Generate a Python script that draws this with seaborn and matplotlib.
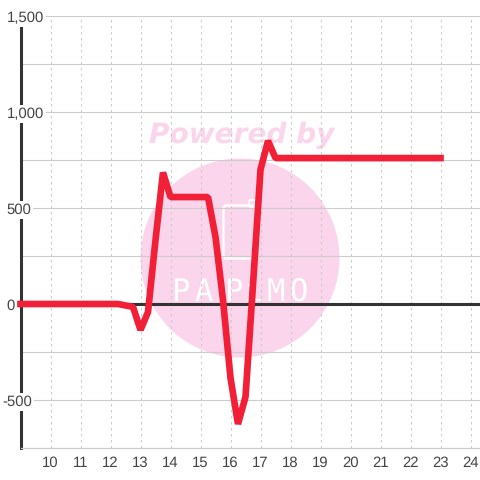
import matplotlib
matplotlib.use("Agg")
import matplotlib.pyplot as plt
from matplotlib.patches import Circle, FancyBboxPatch
import pandas as pd
import seaborn as sns

hours = [9, 12, 12.25, 12.75, 13, 13.25, 13.5, 13.75, 14, 15.25, 15.5, 15.75, 16, 16.25, 16.5, 16.75, 17, 17.25, 17.5, 23]
values = [0, 0, 0, -15, -135, -42, 333, 685, 557, 557, 349, 20, -385, -625, -484, 100, 700, 850, 760, 760]
x_ticks = list(range(10, 25))
y_labels = [-500, 0, 500, 1000, 1500]
y_grid = [-500, -250, 0, 250, 500, 750, 1000, 1250, 1500]
logo_letters = ["P", "A", "P", "i", "M", "O"]

sns.set_theme(style="white")
plt.rcParams["font.family"] = ["Liberation Sans", "DejaVu Sans"]
plt.rcParams["text.hinting"] = "none"

W = 480
PINK = "#FBD5EC"
fig = plt.figure(figsize=(4.8, 4.8), dpi=100, facecolor="white")

# watermark layer, in pixel coordinates, behind the chart
bg = fig.add_axes([0, 0, 1, 1], zorder=1)
bg.set_xlim(0, W)
bg.set_ylim(W, 0)
bg.axis("off")
bg.add_patch(Circle((240, 258), 99.5, fc=PINK, ec="none"))
bg.text(242, 143, "Powered by", ha="center", va="baseline", fontsize=20.2, color=PINK,
        family="DejaVu Sans", weight="bold", style="italic")
bg.add_patch(FancyBboxPatch((223.5, 205.5), 32, 53, boxstyle="round,pad=0,rounding_size=3",
                            fc="none", ec="white", lw=1.7))
bg.add_patch(FancyBboxPatch((249, 200), 6, 7, boxstyle="round,pad=0,rounding_size=2",
                            fc="none", ec="white", lw=1.4))
for letter, px in zip(logo_letters, [180, 204, 233, 253, 276, 298]):
    bg.text(px, 301, letter, ha="center", va="baseline", fontsize=22, color="white",
            family="DejaVu Sans Mono")

# chart
ax = fig.add_axes([20.5 / W, 1 - 448 / W, 459.5 / W, 432 / W], zorder=2)
ax.patch.set_alpha(0)
ax.set_xlim(9, 9 + 459.5 / 30)
ax.set_ylim(-750, 1500)

ax.set_xticks(x_ticks)
ax.set_yticks(y_grid)
ax.set_yticklabels([])
ax.set_axisbelow(True)
ax.grid(axis="y", color="#CCCCCC", lw=0.8)
ax.grid(axis="x", color="#CCCCCC", lw=0.8, ls=(0, (2.2, 3.2)))

df = pd.DataFrame({"hour": hours, "value": values})
ax.axhline(0, color="#333333", lw=2.2, zorder=3.5)
sns.lineplot(data=df, x="hour", y="value", ax=ax, color="#F22037", lw=4.8,
             solid_joinstyle="bevel", solid_capstyle="projecting", zorder=4, errorbar=None)
ax.lines[-1].set_clip_on(False)
ax.set_xlabel("")
ax.set_ylabel("")

for s in ["top", "right"]:
    ax.spines[s].set_visible(False)
ax.spines["left"].set_color("#333333")
ax.spines["left"].set_linewidth(2.2)
ax.spines["bottom"].set_color("#CCCCCC")
ax.spines["bottom"].set_linewidth(0.9)

ax.tick_params(axis="both", length=0, labelsize=10.7, colors="#444444")
ax.tick_params(axis="x", pad=5.5)
for t in ax.get_xticklabels():
    t.set_x(t.get_position()[0])

for v in y_labels:
    ax.annotate(f"{v:,}", xy=(0, v), xycoords=ax.get_yaxis_transform(),
                xytext=(-18 if v < 0 else -14, -6), textcoords="offset pixels",
                annotation_clip=False, ha="left", va="baseline", fontsize=10.7, color="#444444",
                bbox=dict(fc="white", ec="none", pad=1.3), zorder=3)

fig.savefig("out.png", dpi=100, facecolor="white")
